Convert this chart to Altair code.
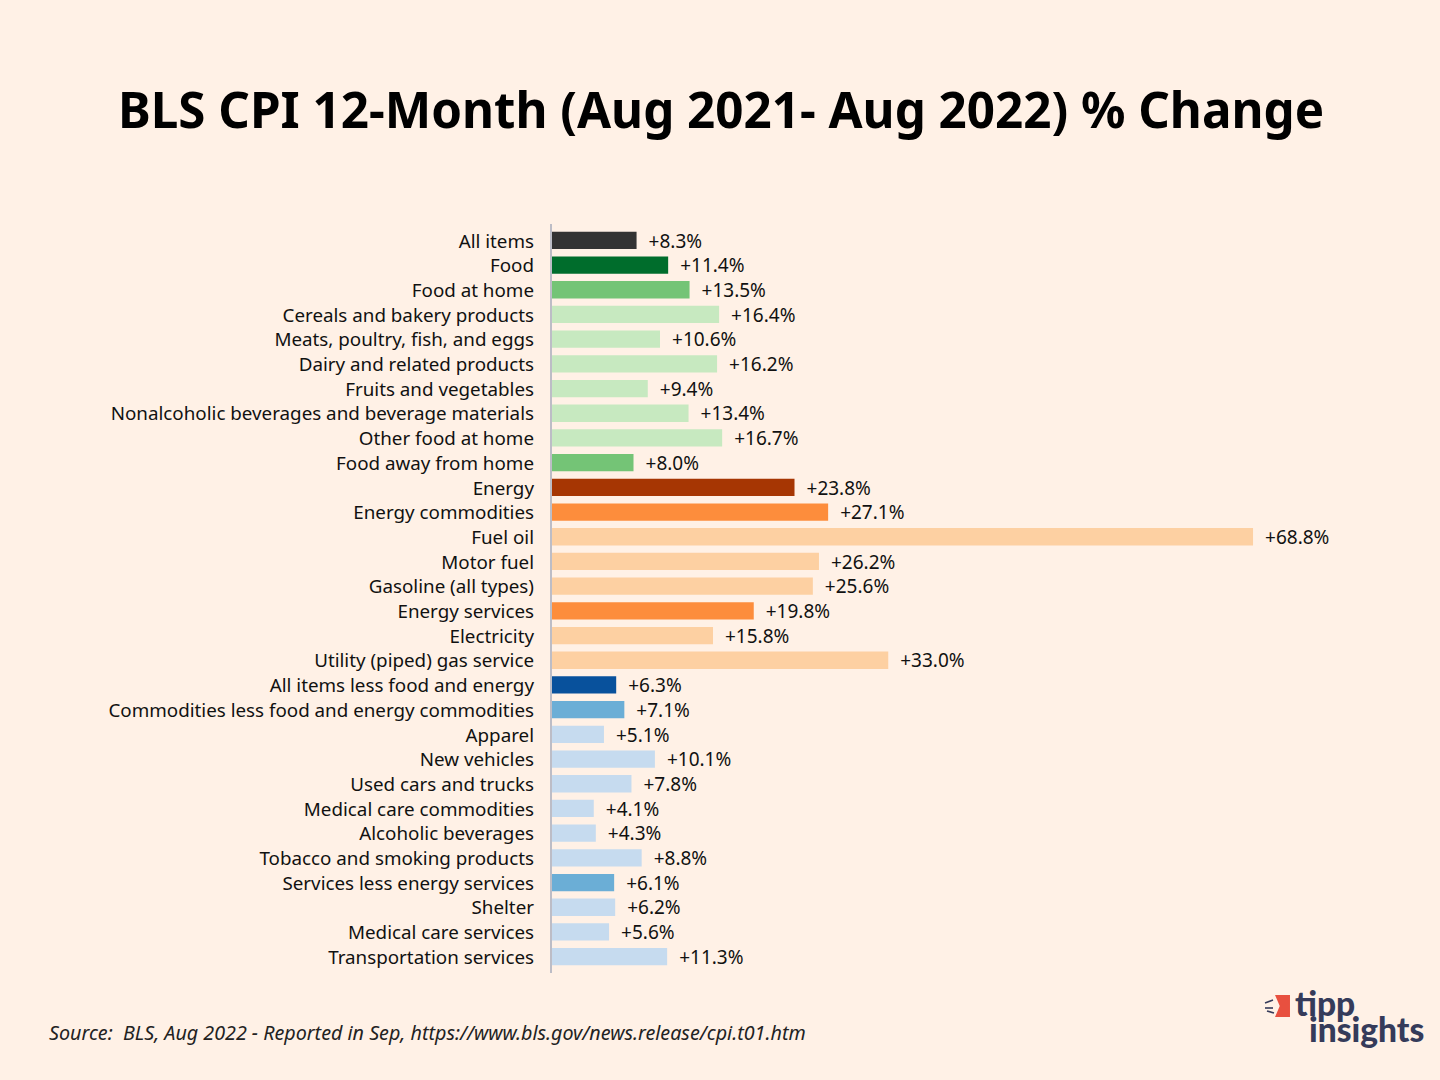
import altair as alt
import pandas as pd
import jinja2

categories = ["All items","Food","Food at home","Cereals and bakery products","Meats, poultry, fish, and eggs",
"Dairy and related products","Fruits and vegetables","Nonalcoholic beverages and beverage materials","Other food at home",
"Food away from home","Energy","Energy commodities","Fuel oil","Motor fuel","Gasoline (all types)","Energy services",
"Electricity","Utility (piped) gas service","All items less food and energy","Commodities less food and energy commodities",
"Apparel","New vehicles","Used cars and trucks","Medical care commodities","Alcoholic beverages","Tobacco and smoking products",
"Services less energy services","Shelter","Medical care services","Transportation services"]
values = [8.3,11.4,13.5,16.4,10.6,16.2,9.4,13.4,16.7,8.0,23.8,27.1,68.8,26.2,25.6,19.8,15.8,33.0,6.3,7.1,5.1,10.1,7.8,4.1,4.3,8.8,6.1,6.2,5.6,11.3]
colors = ["#333333","#006D2C","#74C476","#C7E9C0","#C7E9C0","#C7E9C0","#C7E9C0","#C7E9C0","#C7E9C0","#74C476",
"#A63603","#FD8D3C","#FDD0A2","#FDD0A2","#FDD0A2","#FD8D3C","#FDD0A2","#FDD0A2",
"#08519C","#6BAED6","#C6DBEF","#C6DBEF","#C6DBEF","#C6DBEF","#C6DBEF","#C6DBEF","#6BAED6","#C6DBEF","#C6DBEF","#C6DBEF"]
labels = [f"+{v:.1f}%" for v in values]

FONT = "Noto Sans"
BG = "#FFF1E6"
df = pd.DataFrame({"category":categories,"value":values,"color":colors,"label":labels})

x = alt.X("value:Q", scale=alt.Scale(domain=[0,69.68], nice=False), axis=None)
y = alt.Y("category:N", sort=categories, title=None, scale=alt.Scale(paddingInner=0.3, paddingOuter=0.15),
          axis=alt.Axis(domain=False, ticks=False, labelPadding=18.5, labelFont=FONT, labelFontSize=18.8, labelOffset=1.2,
                        labelColor="#111111", labelLimit=500, grid=False))

bars = alt.Chart(df).mark_bar().encode(x=x, y=y, color=alt.Color("color:N", scale=None))
text = alt.Chart(df).mark_text(align="left", baseline="middle", dx=12, dy=1.2, font=FONT, fontSize=19, color="#111111").encode(x=x, y=y, text="label:N")
axis_line = alt.Chart(df.head(1)).mark_rule(color="#BDBDC6", strokeWidth=2).encode(x=alt.value(-1), y=alt.value(-4), y2=alt.value(745))

source = alt.Chart(pd.DataFrame({"t":["Source:\u00a0\u00a0BLS, Aug 2022 - Reported in Sep, https://www.bls.gov/news.release/cpi.t01.htm"]})).mark_text(
    align="left", baseline="alphabetic", font=FONT, fontSize=19.72, fontStyle="italic", color="#222222"
).encode(x=alt.value(-503), y=alt.value(812), text="t:N")

logo_c = "#353B5A"
logo1 = alt.Chart(pd.DataFrame({"t":["tipp"]})).mark_text(align="left", baseline="alphabetic", font="Lato", fontSize=33.5, fontWeight=900, color=logo_c).encode(x=alt.value(743), y=alt.value(788), text="t:N")
logo2 = alt.Chart(pd.DataFrame({"t":["insights"]})).mark_text(align="left", baseline="alphabetic", font="Lato", fontSize=33.5, fontWeight=900, color=logo_c).encode(x=alt.value(757), y=alt.value(814), text="t:N")
flag = alt.Chart(pd.DataFrame({"t":[1]})).mark_point(filled=True, opacity=1, color="#E8503F", size=484,
    shape="M-0.68,-1 L0.68,-1 L0.68,1 L-0.68,1 L-0.25,0 Z").encode(x=alt.value(730.5), y=alt.value(778))
ray_x = [713, 713, 715]
ray_x2 = [721, 721, 722]
ray_y = [775, 780, 783]
ray_y2 = [772, 780, 785]
rays = [alt.Chart(pd.DataFrame({"t":[1]})).mark_rule(color=logo_c, strokeWidth=1.6).encode(
    x=alt.value(a), x2=alt.value(b), y=alt.value(c), y2=alt.value(d)) for a, b, c, d in zip(ray_x, ray_x2, ray_y, ray_y2)]

chart = alt.layer(bars, text, axis_line, source, logo1, logo2, flag, *rays).properties(
    width=710, height=741, background=BG,
    padding={"left":544,"top":220,"right":170,"bottom":103},
    autosize=alt.AutoSizeParams(type="none"),
    title=alt.TitleParams("BLS CPI 12-Month (Aug 2021- Aug 2022) % Change", font=FONT, fontSize=49.3, fontWeight="bold",
                          color="#000000", anchor="middle", frame="group", dx=-186, offset=46, baseline="alphabetic"),
).configure_view(stroke=None)

page = jinja2.Template("""<!DOCTYPE html>
<html><head><meta charset="utf-8"><style>html,body{background:#FFF1E6;overflow:hidden;}</style>
<script src="{{ base_url }}/vega@{{ vega_version }}"></script>
<script src="{{ base_url }}/vega-lite@{{ vegalite_version }}"></script>
<script src="{{ base_url }}/vega-embed@{{ vegaembed_version }}"></script>
</head><body><div id="{{ output_div }}"></div>
<script>vegaEmbed("#{{ output_div }}", {{ spec }}, {{ embed_options }}).catch(console.error);</script>
</body></html>""")
chart.save("out.html", embed_options={"renderer":"svg","actions":False}, template=page)
